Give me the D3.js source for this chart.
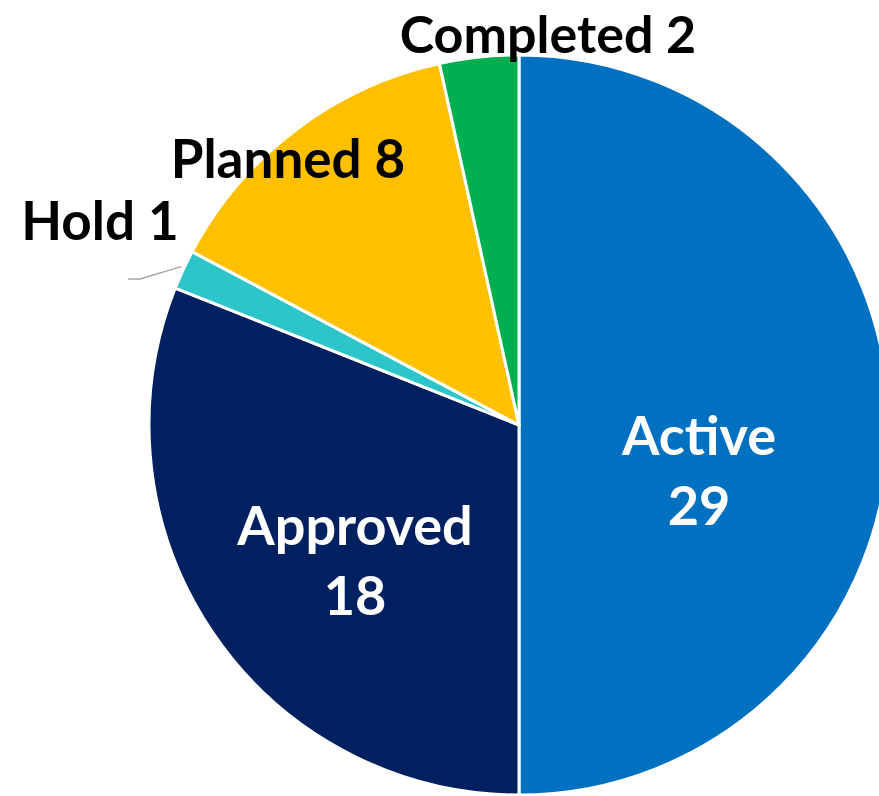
<!DOCTYPE html>
<html><head><meta charset="utf-8">
<script src="https://cdn.jsdelivr.net/npm/d3@7"></script>
<style>html,body{margin:0;padding:0;background:#fff;overflow:hidden}</style>
</head><body>
<svg id="c" width="879" height="796"></svg>
<script>
const categories = ["Active", "Approved", "Hold", "Planned", "Completed"];
const values = [29, 18, 1, 8, 2];
const colors = ["#0070C0", "#002060", "#2BC5CA", "#FFC000", "#00B050"];

const W = 879, H = 796, cx = 519, cy = 425, R = 370;
const svg = d3.select("#c");
const g = svg.append("g").attr("transform", `translate(${cx},${cy})`);
const data = categories.map((c, i) => ({cat: c, val: values[i], color: colors[i]}));
const pie = d3.pie().value(d => d.val).sort(null);
const arcs = pie(data);
const arc = d3.arc().innerRadius(0).outerRadius(R);

g.selectAll("path").data(arcs).enter().append("path")
  .attr("d", arc).attr("fill", d => d.data.color)
  .attr("stroke", "#fff").attr("stroke-width", 3).attr("stroke-linejoin", "round");

// leader line for Hold
const hold = arcs[2];
const ha = (hold.startAngle + hold.endAngle) / 2;
const p0 = [Math.sin(ha) * R, -Math.cos(ha) * R];
g.append("polyline")
  .attr("points", [[p0[0] - 2, p0[1] - 3], [140 - cx, 279 - cy], [128 - cx, 279 - cy]].map(p => p.join(",")).join(" "))
  .attr("fill", "none").attr("stroke", "#A6A6A6").attr("stroke-width", 1.5);

const font = "Lato, 'Open Sans', sans-serif";
const labelLayout = {
  Active: {x: 699, y: [455, 525], fill: "#fff", two: true, size: 54},
  Approved: {x: 355, y: [545, 615], fill: "#fff", two: true, size: 54},
  Hold: {x: 100, y: [240], fill: "#000", size: 53},
  Planned: {x: 288, y: [178], fill: "#000", size: 53},
  Completed: {x: 548, y: [53], fill: "#000", size: 52}
};
data.forEach(d => {
  const L = labelLayout[d.cat];
  const lines = L.two ? [d.cat, String(d.val)] : [d.cat + " " + d.val];
  lines.forEach((t, i) => {
    svg.append("text").attr("x", L.x).attr("y", L.y[i])
      .attr("text-anchor", "middle").attr("font-family", font)
      .attr("font-weight", 700).attr("font-size", L.size)
      .attr("fill", L.fill).text(t);
  });
});
</script>
</body></html>
